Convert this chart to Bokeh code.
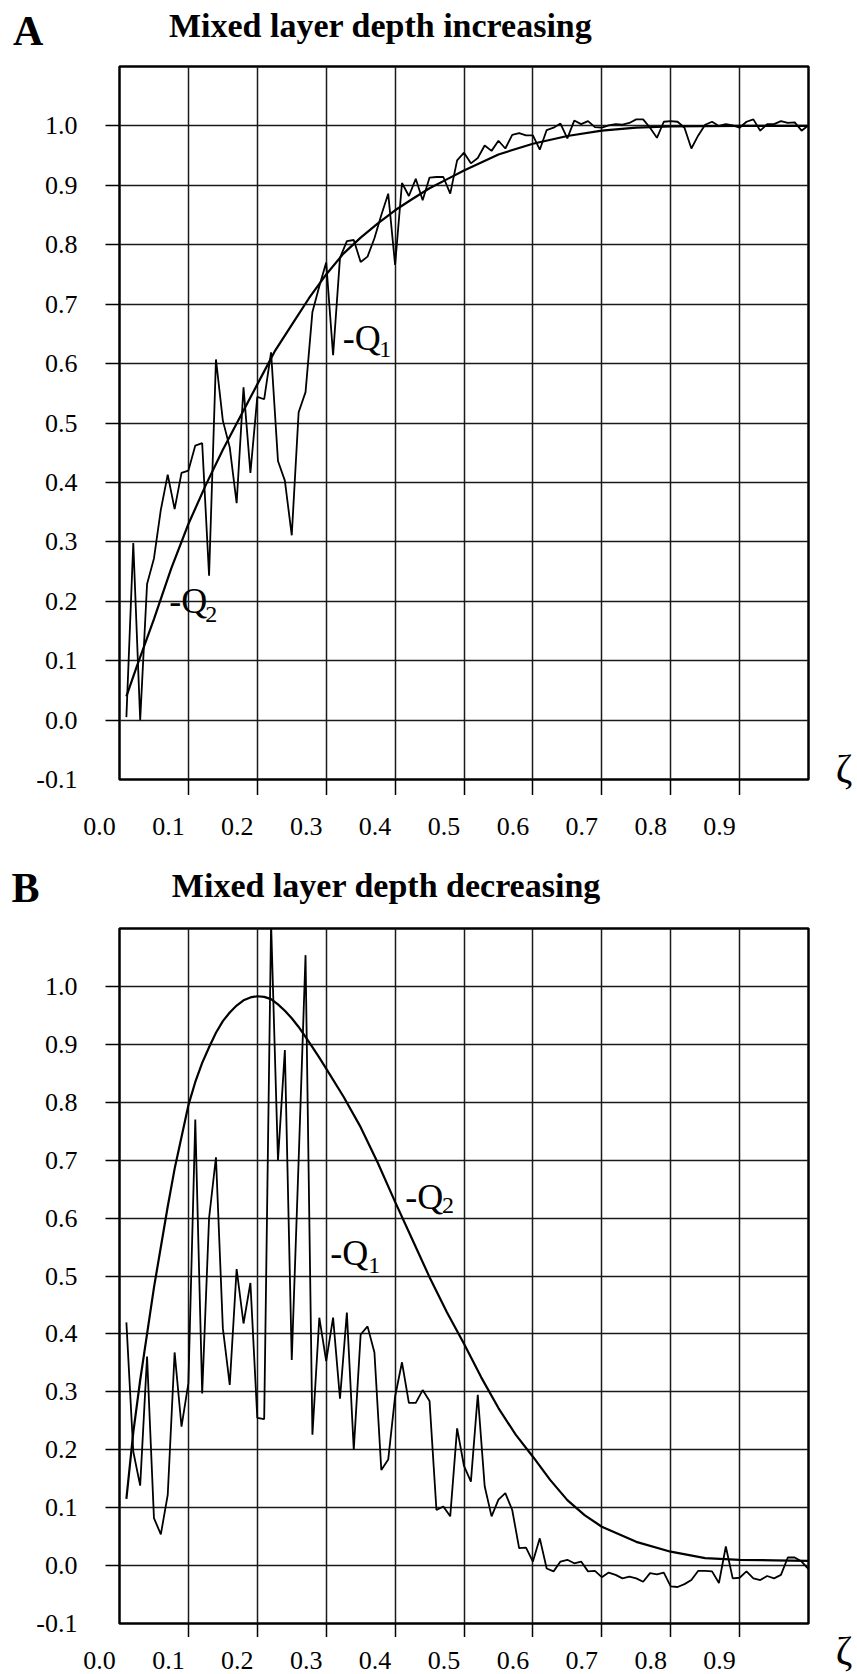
from bokeh.plotting import figure
from bokeh.layouts import column, row
from bokeh.models import Range1d, FixedTicker, Label, PrintfTickFormatter
from bokeh.embed import file_html
from bokeh.resources import INLINE

# ---------------- data ----------------
zeta = [round(0.01 * i, 2) for i in range(1, 101)]

a_q1 = [0.005, 0.298, 0.0, 0.229, 0.272, 0.354, 0.413, 0.355, 0.416, 0.42,
        0.462, 0.466, 0.243, 0.607, 0.504, 0.459, 0.365, 0.56, 0.416, 0.544,
        0.54, 0.619, 0.436, 0.403, 0.311, 0.518, 0.552, 0.687, 0.73, 0.77,
        0.614, 0.778, 0.806, 0.808, 0.771, 0.78, 0.811, 0.85, 0.886, 0.766,
        0.904, 0.882, 0.911, 0.875, 0.913, 0.914, 0.914, 0.886, 0.942, 0.955,
        0.937, 0.946, 0.967, 0.958, 0.975, 0.962, 0.985, 0.988, 0.984, 0.984,
        0.96, 0.993, 0.997, 1.004, 0.979, 1.009, 1.003, 1.008, 0.998, 0.997,
        1.001, 1.003, 1.002, 1.005, 1.011, 1.011, 0.997, 0.98, 1.007, 1.008,
        1.007, 0.997, 0.962, 0.984, 1.002, 1.007, 1.0, 1.003, 1.001, 0.997,
        1.007, 1.011, 0.992, 1.003, 1.003, 1.008, 1.005, 1.006, 0.992, 1.001]

a_q2_x = [0.01, 0.025, 0.05, 0.075, 0.10, 0.125, 0.15, 0.175, 0.20, 0.225,
          0.25, 0.275, 0.30, 0.325, 0.35, 0.375, 0.40, 0.425, 0.45, 0.475,
          0.50, 0.55, 0.60, 0.65, 0.70, 0.75, 0.80, 0.90, 1.00]
a_q2 = [0.04, 0.09, 0.17, 0.255, 0.33, 0.395, 0.455, 0.51, 0.565, 0.62,
        0.665, 0.71, 0.75, 0.785, 0.812, 0.836, 0.858, 0.877, 0.895, 0.91,
        0.925, 0.952, 0.97, 0.983, 0.992, 0.997, 0.999, 1.0, 1.0]

b_q1 = [0.42, 0.197, 0.138, 0.361, 0.082, 0.054, 0.122, 0.368, 0.24, 0.315,
        0.77, 0.297, 0.60, 0.705, 0.41, 0.312, 0.512, 0.418, 0.488, 0.255,
        0.253, 1.11, 0.70, 0.89, 0.355, 0.70, 1.054, 0.226, 0.428, 0.353,
        0.428, 0.288, 0.437, 0.20, 0.399, 0.413, 0.368, 0.165, 0.183, 0.292,
        0.351, 0.281, 0.281, 0.303, 0.284, 0.096, 0.102, 0.085, 0.237, 0.172,
        0.145, 0.295, 0.137, 0.085, 0.114, 0.125, 0.096, 0.03, 0.031, 0.007,
        0.047, -0.005, -0.01, 0.007, 0.01, 0.004, 0.007, -0.01, -0.009, -0.02,
        -0.012, -0.016, -0.022, -0.019, -0.022, -0.028, -0.013, -0.015, -0.012, -0.036,
        -0.037, -0.032, -0.025, -0.009, -0.009, -0.01, -0.03, 0.033, -0.022, -0.021,
        -0.01, -0.022, -0.025, -0.018, -0.022, -0.016, 0.014, 0.014, 0.007, -0.006]

b_q2_x = [0.01, 0.02, 0.03, 0.04, 0.05, 0.06, 0.07, 0.08, 0.09, 0.10,
          0.11, 0.12, 0.13, 0.14, 0.15, 0.16, 0.17, 0.18, 0.19, 0.20,
          0.21, 0.22, 0.23, 0.24, 0.25, 0.26, 0.27, 0.28, 0.29, 0.30,
          0.325, 0.35, 0.375, 0.40, 0.425, 0.45, 0.475, 0.50, 0.525, 0.55,
          0.575, 0.60, 0.625, 0.65, 0.675, 0.70, 0.75, 0.80, 0.85, 0.90,
          0.95, 1.00]
b_q2 = [0.115, 0.23, 0.32, 0.40, 0.48, 0.55, 0.62, 0.685, 0.74, 0.795,
        0.835, 0.868, 0.895, 0.92, 0.94, 0.955, 0.967, 0.976, 0.981, 0.983,
        0.982, 0.978, 0.969, 0.958, 0.945, 0.93, 0.913, 0.895, 0.877, 0.858,
        0.81, 0.757, 0.695, 0.628, 0.563, 0.498, 0.438, 0.383, 0.325, 0.272,
        0.226, 0.188, 0.148, 0.113, 0.087, 0.067, 0.041, 0.024, 0.013, 0.01,
        0.009, 0.008]

x_grid = [0.1, 0.2, 0.3, 0.4, 0.5, 0.6, 0.7, 0.8, 0.9]
x_tick_labels = ["0.0", "0.1", "0.2", "0.3", "0.4", "0.5", "0.6", "0.7", "0.8", "0.9"]
x_label_pos = [-0.029, 0.071, 0.171, 0.271, 0.371, 0.471, 0.571, 0.671, 0.771, 0.871]
y_ticks = [-0.1, 0.0, 0.1, 0.2, 0.3, 0.4, 0.5, 0.6, 0.7, 0.8, 0.9, 1.0]
y_grid = [0.0, 0.1, 0.2, 0.3, 0.4, 0.5, 0.6, 0.7, 0.8, 0.9, 1.0]

SERIF = "Liberation Serif"
PAGE_W = 857
FRAME_L = 119
FRAME_W = 689
MAIN_W = FRAME_L + FRAME_W + 2      # plot figure width (frame + left axis + 2px)
SIDE_W = PAGE_W - MAIN_W             # strip right of the frame (for the zeta)


def xval(px):
    return (px - FRAME_L) / FRAME_W


def blank(w, h, xr, yr):
    f = figure(width=w, height=h, x_range=Range1d(*xr), y_range=Range1d(*yr),
               output_backend="svg", toolbar_location=None,
               x_axis_location=None, y_axis_location=None, min_border=0,
               frame_align=False)
    f.grid.visible = False
    f.outline_line_color = None
    f.background_fill_color = "white"
    f.border_fill_color = "white"
    return f


def text_label(x, y, text, size, bold=False, align="left"):
    return Label(x=x, y=y, text=text, text_font=SERIF, text_font_size=size,
                 text_font_style="bold" if bold else "normal",
                 text_baseline="middle", text_align=align, text_color="black")


def make_panel(panel_h, header_h, frame_top, frame_bottom, xtick_len, lab_standoff,
               letter, title, letter_pos, title_pos, zeta_pos, q_labels, q1, q2x, q2):
    ppu = (frame_bottom - frame_top) / 1.2

    def yval(py):
        return 1.1 - (py - frame_top) / ppu

    main_h = 2 + (frame_bottom - frame_top) + xtick_len
    foot_h = panel_h - header_h - main_h

    # ---- header with panel letter and title
    head = blank(PAGE_W, header_h, (xval(0), xval(PAGE_W)), (yval(header_h), yval(0)))
    head.add_layout(text_label(letter_pos[0], letter_pos[1], letter, "42px", bold=True))
    head.add_layout(text_label(title_pos[0], title_pos[1], title, "34px", bold=True))

    # ---- main plot
    p = figure(width=MAIN_W, height=main_h, x_range=Range1d(0, 1), y_range=Range1d(-0.1, 1.1),
               output_backend="svg", toolbar_location=None,
               min_border_left=FRAME_L, min_border_right=2,
               min_border_top=2, min_border_bottom=xtick_len, frame_align=False)
    p.background_fill_color = "white"
    p.border_fill_color = "white"
    p.outline_line_color = "black"
    p.outline_line_width = 2.5

    xa = p.xaxis[0]
    xa.ticker = FixedTicker(ticks=[], minor_ticks=x_grid)
    xa.axis_line_color = None
    xa.major_tick_line_color = None
    xa.major_tick_out = 0
    xa.major_tick_in = 0
    xa.major_label_standoff = 0
    xa.minor_tick_out = xtick_len
    xa.minor_tick_in = 0
    xa.minor_tick_line_color = "black"
    xa.minor_tick_line_width = 1.5

    ya = p.yaxis[0]
    ya.ticker = FixedTicker(ticks=y_ticks, minor_ticks=y_grid)
    ya.formatter = PrintfTickFormatter(format="%.1f")
    ya.axis_line_color = None
    ya.major_tick_line_color = None
    ya.major_tick_out = 0
    ya.major_tick_in = 0
    ya.minor_tick_out = 14
    ya.minor_tick_in = 0
    ya.minor_tick_line_color = "black"
    ya.minor_tick_line_width = 1.5
    ya.major_label_standoff = 28
    ya.major_label_text_font = SERIF
    ya.major_label_text_font_size = "26px"
    ya.major_label_text_color = "black"

    p.xgrid.ticker = FixedTicker(ticks=x_grid)
    p.ygrid.ticker = FixedTicker(ticks=y_grid)
    for g in (p.xgrid, p.ygrid):
        g.grid_line_color = "#1a1a1a"
        g.grid_line_width = 1.5
        g.grid_line_alpha = 1.0

    p.line(zeta, q1, line_color="black", line_width=1.8)
    p.line(q2x, q2, line_color="black", line_width=2.2)

    for (mx, my, sx, sy, sub) in q_labels:
        p.add_layout(text_label(mx, my, "-Q", "36px"))
        p.add_layout(text_label(sx, sy, sub, "24px"))

    # ---- footer carrying the x tick labels (offset to the left of the grid lines)
    foot = figure(width=MAIN_W, height=foot_h, x_range=Range1d(xval(0), xval(MAIN_W)),
                  y_range=Range1d(0, 1), output_backend="svg", toolbar_location=None,
                  x_axis_location="above", y_axis_location=None,
                  min_border_left=0, min_border_right=0, min_border_top=foot_h - 1,
                  min_border_bottom=0, frame_align=False)
    foot.grid.visible = False
    foot.outline_line_color = None
    foot.background_fill_color = "white"
    foot.border_fill_color = "white"
    fa = foot.xaxis[0]
    fa.ticker = FixedTicker(ticks=x_label_pos)
    fa.major_label_overrides = dict(zip(x_label_pos, x_tick_labels))
    fa.axis_line_color = None
    fa.major_tick_line_color = None
    fa.minor_tick_line_color = None
    fa.major_tick_out = 0
    fa.major_tick_in = 0
    fa.minor_tick_out = 0
    fa.minor_tick_in = 0
    fa.major_label_standoff = lab_standoff
    fa.major_label_text_font = SERIF
    fa.major_label_text_font_size = "26px"
    fa.major_label_text_color = "black"

    # ---- right strip with the zeta symbol
    side = blank(SIDE_W, main_h + foot_h, (xval(MAIN_W), xval(PAGE_W)),
                 (yval(panel_h), yval(header_h)))
    side.add_layout(text_label(zeta_pos[0], zeta_pos[1], "ζ", "40px", align="center"))

    return column(head, row(column(p, foot), side))


panelA = make_panel(860, 64, 66, 779, 16, 25, "A", "Mixed layer depth increasing",
                    (-0.1545, 1.1592), (0.0718, 1.1682), (1.0515, -0.0815),
                    [(0.324, 0.6434, 0.377, 0.6236, "1"), (0.0723, 0.2004, 0.1245, 0.1776, "2")],
                    a_q1, a_q2_x, a_q2)

panelB = make_panel(814, 66, 68, 763, 14, 5, "B", "Mixed layer depth decreasing",
                    (-0.1567, 1.1694), (0.076, 1.1734), (1.0515, -0.1466),
                    [(0.3058, 0.539, 0.361, 0.518, "1"), (0.4147, 0.637, 0.468, 0.621, "2")],
                    b_q1, b_q2_x, b_q2)

layout = column(panelA, panelB)
open("out.html", "w").write(file_html(layout, INLINE))
